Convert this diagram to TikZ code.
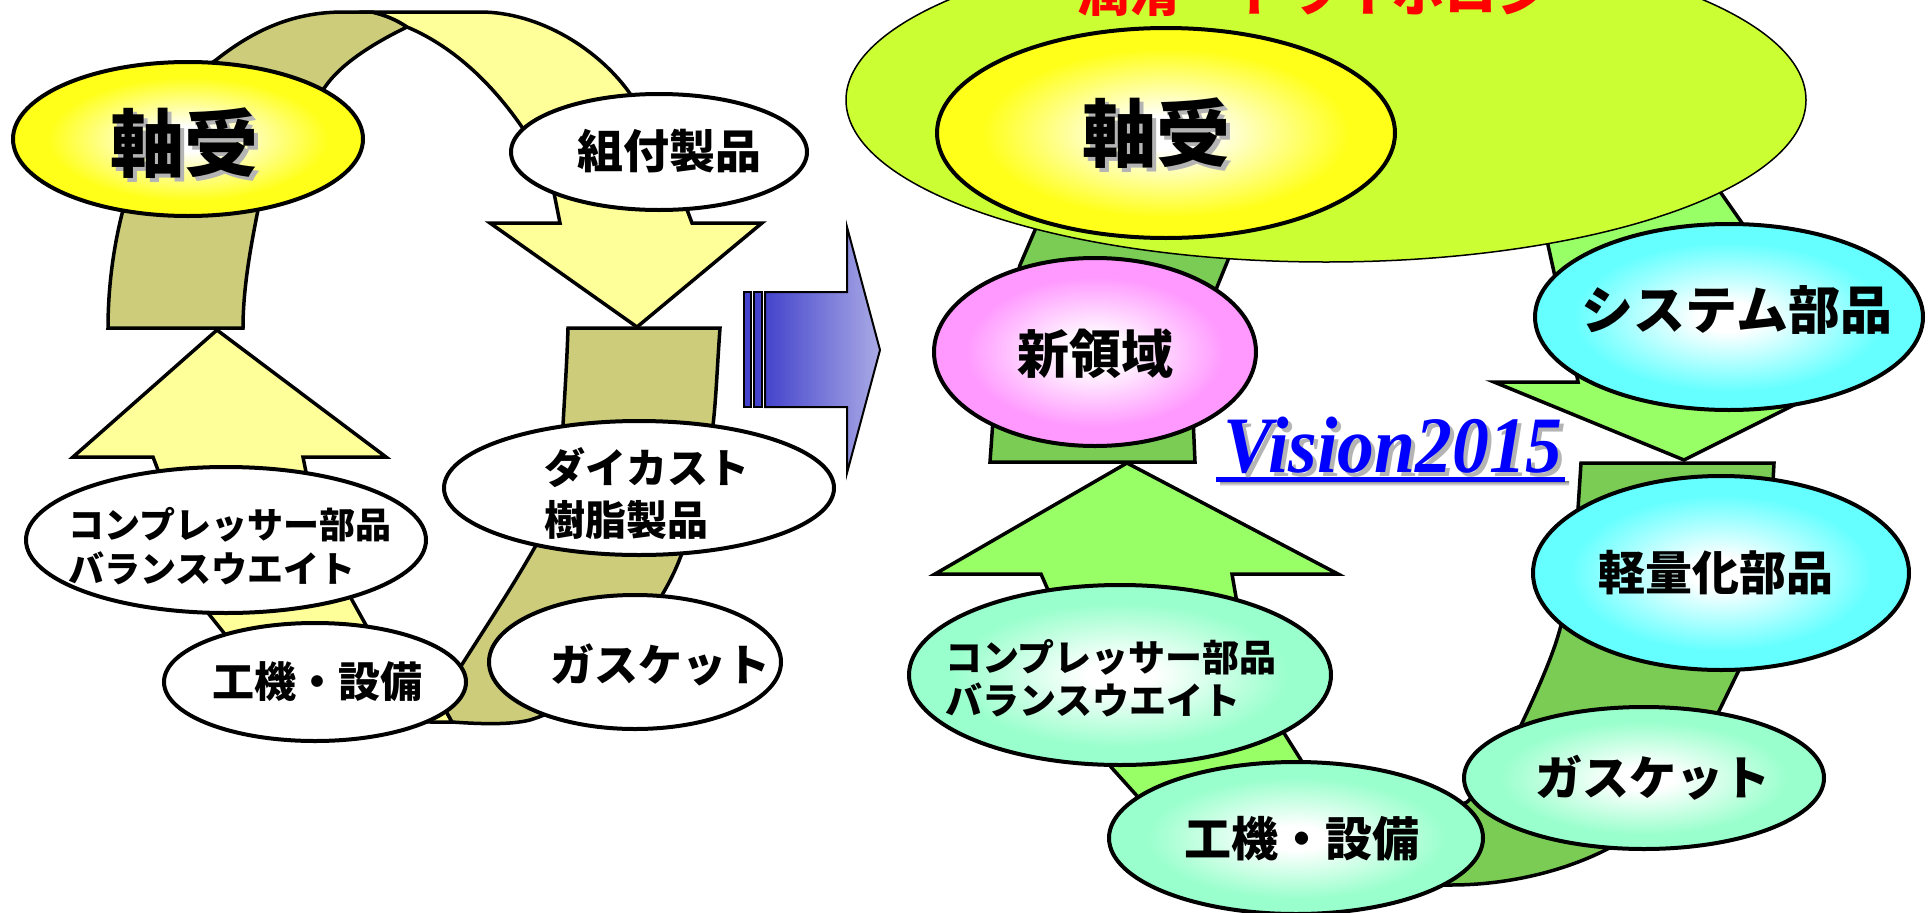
\documentclass[tikz,border=0pt]{standalone}
\usepackage{fontspec}
\setmainfont{Liberation Serif}
\newfontfamily\jpfont{Noto Sans CJK JP}
\usetikzlibrary{shapes.geometric}

\definecolor{khaki}{HTML}{CCCC7A}
\definecolor{paleyel}{HTML}{FFFF99}
\definecolor{ballyel}{HTML}{FFFF1A}
\definecolor{limegr}{HTML}{CCFF33}
\definecolor{bandgr}{HTML}{7ACC55}
\definecolor{arrowgr}{HTML}{99FF66}
\definecolor{ballpink}{HTML}{FF99FF}
\definecolor{ballcyan}{HTML}{66FFFF}
\definecolor{ballmint}{HTML}{99FFCC}
\definecolor{bluedark}{HTML}{4444CC}
\definecolor{bluelight}{HTML}{AAAAE6}
\definecolor{shade}{HTML}{B4B4B4}

\pgfdeclareradialshading{yelball}{\pgfpoint{0bp}{0bp}}{color(0bp)=(white); color(4bp)=(white); color(20bp)=(ballyel); color(50bp)=(ballyel)}
\pgfdeclareradialshading{pinkball}{\pgfpoint{0bp}{0bp}}{color(0bp)=(white); color(4bp)=(white); color(20bp)=(ballpink); color(50bp)=(ballpink)}
\pgfdeclareradialshading{cyanball}{\pgfpoint{0bp}{0bp}}{color(0bp)=(white); color(4bp)=(white); color(20bp)=(ballcyan); color(50bp)=(ballcyan)}
\pgfdeclareradialshading{mintball}{\pgfpoint{0bp}{0bp}}{color(0bp)=(white); color(4bp)=(white); color(20bp)=(ballmint); color(50bp)=(ballmint)}

\tikzset{
  blob/.style={ellipse, draw=black, line width=4pt, inner sep=0pt},
  band/.style={draw=black, line width=3.5pt, line join=miter},
  tag/.style={inner sep=0pt, font=\jpfont\bfseries\fontsize{#1}{#1}\selectfont},
  tags/.style 2 args={inner sep=0pt, align=left, font=\jpfont\bfseries\fontsize{#1}{#2}\selectfont},
}

\begin{document}
\begin{tikzpicture}[x=1pt, y=-1pt]
\useasboundingbox (0,0) rectangle (1928,913);
\clip (0,0) rectangle (1928,913);
\fill[white] (0,0) rectangle (1928,913);

% left cycle
\draw[band, fill=khaki] (108,328) .. controls (108,230) and (140,110) .. (216,60)
  .. controls (260,25) and (300,12) .. (344,12) -- (372,12)
  .. controls (385,15) and (397,20) .. (407,27)
  .. controls (370,45) and (340,65) .. (325,87)
  .. controls (290,130) and (262,180) .. (258,210)
  .. controls (250,250) and (243,290) .. (243,328) -- cycle;
\draw[band, fill=paleyel] (372,12) -- (480,12) .. controls (540,12) and (600,50) .. (631,95)
  .. controls (665,140) and (683,180) .. (686,207) -- (692,223) -- (762,223) -- (637,327)
  -- (490,223) -- (560,223) -- (554,193) .. controls (545,165) and (535,145) .. (524,130)
  .. controls (490,80) and (450,45) .. (407,27) .. controls (397,20) and (385,15) .. (372,12) -- cycle;
\draw[band, fill=paleyel] (217,330) -- (386,457) -- (303,457) -- (306,472)
  .. controls (320,530) and (340,570) .. (352,600) -- (367,627)
  .. controls (390,660) and (415,690) .. (440,700) -- (452,722)
  .. controls (400,724) and (300,710) .. (250,675)
  .. controls (240,665) and (230,650) .. (224,633) -- (208,613)
  .. controls (190,560) and (165,500) .. (158,470) -- (153,457) -- (73,457) -- cycle;
\draw[band, fill=khaki] (568,328) -- (720,328) .. controls (717,370) and (716,400) .. (713,425)
  .. controls (705,480) and (692,520) .. (682,553) .. controls (676,570) and (668,585) .. (662,595)
  .. controls (630,660) and (580,705) .. (530,720) .. controls (510,725) and (480,724) .. (452,722)
  -- (440,700) .. controls (470,650) and (505,600) .. (535,547)
  .. controls (550,510) and (560,460) .. (563,425) .. controls (565,390) and (567,360) .. (568,328) -- cycle;

\node[blob, shading=yelball, minimum width=350, minimum height=154] (jikuL) at (188,139) {};
\node[tag=74, text=shade] (jikuLs) at (188,147) {軸受};
\node[tag=74] (jikuLt) at (184,143) {軸受};
\node[blob, fill=white, minimum width=296, minimum height=116] (kumiL) at (659,152) {};
\node[tag=46] (kumiLt) at (669,151) {組付製品};
\node[blob, fill=white, minimum width=390, minimum height=134] (dieL) at (639,488) {};
\node[tags={41}{52}] (dieLt) at (647,494) {ダイカスト\\樹脂製品};
\node[blob, fill=white, minimum width=292, minimum height=134] (gasL) at (635,662) {};
\node[tag=44] (gasLt) at (660,665) {ガスケット};
\node[blob, fill=white, minimum width=302, minimum height=118] (kikiL) at (315,682) {};
\node[tag=42] (kikiLt) at (317,682) {工機・設備};
\node[blob, fill=white, minimum width=400, minimum height=146] (compL) at (226,540) {};
\node[tags={36}{44}] (compLt) at (230,546) {コンプレッサー部品\\バランスウエイト};

% middle arrow
\draw[line width=1.5pt, fill=bluedark] (744,292) rectangle (751,407);
\draw[line width=1.5pt, fill=bluedark] (754,292) rectangle (762,407);
\draw[line width=2pt, left color=bluedark, right color=bluelight] (765,292) -- (847,292) -- (847,227)
  -- (880,350) -- (847,473) -- (847,407) -- (765,407) -- cycle;

% right cycle
\draw[band, fill=bandgr] (1045,200) -- (1035,230) -- (1020,265)
  .. controls (1005,320) and (995,380) .. (993,420) -- (990,462) -- (1195,462) -- (1193,417)
  .. controls (1200,360) and (1210,310) .. (1217,287) -- (1228,260) -- (1235,210) -- cycle;
\draw[band, fill=arrowgr] (1535,190) -- (1548,245) .. controls (1560,300) and (1572,350) .. (1578,382)
  -- (1494,382) -- (1684,460) -- (1860,372) -- (1800,380)
  .. controls (1785,300) and (1760,250) .. (1742,223) -- (1721,193) -- (1700,150) -- cycle;
\draw[band, fill=arrowgr] (1127,463) -- (1338,574) -- (1232,574) -- (1236,597)
  .. controls (1255,660) and (1272,705) .. (1284,733) -- (1301,760)
  .. controls (1330,810) and (1370,835) .. (1400,840) -- (1420,885)
  .. controls (1320,885) and (1200,860) .. (1160,830)
  .. controls (1150,820) and (1143,810) .. (1138,797) -- (1111,767)
  .. controls (1085,700) and (1060,640) .. (1048,590) -- (1041,574) -- (935,574) -- cycle;
\draw[band, fill=bandgr] (1581,463) -- (1774,463) -- (1772,500)
  .. controls (1765,580) and (1752,630) .. (1739,670) -- (1719,711)
  .. controls (1690,780) and (1660,825) .. (1615,845)
  .. controls (1570,870) and (1510,885) .. (1451,885) -- (1420,885) -- (1400,840)
  .. controls (1420,825) and (1445,812) .. (1467,802)
  .. controls (1490,780) and (1510,750) .. (1522,723)
  .. controls (1540,685) and (1555,650) .. (1561,625)
  .. controls (1570,580) and (1576,540) .. (1578,509) -- cycle;

\node[ellipse, draw=black, line width=1.5pt, fill=limegr, minimum width=960, minimum height=324] (lube) at (1326,100) {};
\node[anchor=base west, inner sep=0pt, text=red, font=\jpfont\bfseries\fontsize{52.5}{52.5}\selectfont] (lubet) at (1077,11) {潤滑・トライボロジー};
\node[blob, shading=yelball, minimum width=458, minimum height=210] (jikuR) at (1166,133) {};
\node[tag=74, text=shade] (jikuRs) at (1160,137) {軸受};
\node[tag=74] (jikuRt) at (1156,133) {軸受};

\node[blob, shading=pinkball, minimum width=322, minimum height=188] (shinR) at (1095,352) {};
\node[tag=52] (shinRt) at (1095,354) {新領域};
\node[blob, shading=cyanball, minimum width=388, minimum height=186] (sysR) at (1729,317) {};
\node[tag=52] (sysRt) at (1737,310) {システム部品};
\node[blob, shading=cyanball, minimum width=376, minimum height=194] (keiR) at (1721,573) {};
\node[tag=47] (keiRt) at (1716,573) {軽量化部品};
\node[blob, shading=mintball, minimum width=422, minimum height=180] (compR) at (1120,675) {};
\node[tags={37}{43}] (compRt) at (1111,678) {コンプレッサー部品\\バランスウエイト};
\node[blob, shading=mintball, minimum width=360, minimum height=142] (gasR) at (1644,778) {};
\node[tag=47] (gasRt) at (1653,778) {ガスケット};
\node[blob, shading=mintball, minimum width=374, minimum height=152] (kikiR) at (1296,838) {};
\node[tag=47] (kikiRt) at (1302,839) {工機・設備};

% Vision2015
\fill[shade] (1220,481) rectangle (1569,486);
\fill[blue] (1216,477) rectangle (1565,482);
\node[anchor=base, inner sep=0pt, text=shade, font=\bfseries\itshape\fontsize{80}{80}\selectfont] (visions) at (1397,476) {\scalebox{0.92}[1]{Vision2015}};
\node[anchor=base, inner sep=0pt, text=blue, font=\bfseries\itshape\fontsize{80}{80}\selectfont] (vision) at (1393,472) {\scalebox{0.92}[1]{Vision2015}};
\end{tikzpicture}
\end{document}
